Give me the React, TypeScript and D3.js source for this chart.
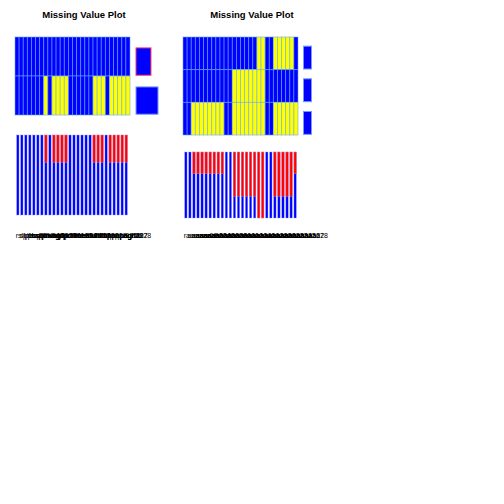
import React from 'react';
import * as d3 from 'd3';

// mosaic rows: 1 = missing (yellow), 0 = observed (blue)
const leftRows = [
  [0,0,0,0,0,0,0,0,0,0,0,0,0,0,0,0,0,0,0,0,0,0,0,0,0,0,0,0],
  [0,0,0,0,0,0,0,1,0,1,1,1,1,0,0,0,0,0,0,1,1,1,0,1,1,1,1,1],
];
const rightRows = [
  [0,0,0,0,0,0,0,0,0,0,0,0,0,0,0,0,0,0,1,1,0,0,1,1,1,1,1,0],
  [0,0,0,0,0,0,0,0,0,0,0,0,1,1,1,1,1,1,1,1,0,0,0,0,0,0,0,0],
  [0,0,1,1,1,1,1,1,1,1,0,0,1,1,1,1,1,1,1,1,0,0,1,1,1,1,1,1],
];

// share of missing values per observation (red part of each bar)
const leftShare = [0,0,0,0,0,0,0,0.34,0,0.34,0.34,0.34,0.34,0,0,0,0,0,0,0.34,0.34,0.34,0,0.34,0.34,0.34,0.34,0.34];
const rightShare = [0,0,0.33,0.33,0.33,0.33,0.33,0.33,0.33,0.33,0,0,0.67,0.67,0.67,0.67,0.67,0.67,1,1,0,0,0.67,0.67,0.67,0.67,0.67,0.33];

// small side bars next to the mosaic
const leftSide = [0.68, 1.0];
const leftSideStroke = ['#ff3366', '#7799ff'];
const rightSide = [1, 1, 1];
const rightSideStroke = ['#7799ff', '#7799ff', '#7799ff'];

const leftLabels = ['rslpbsq01', 'slpbsq02', 'lpbsqm03', 'pbsqmv04', 'bsqmva05', 'sqmvag06', 'qmvagd07', 'mvagdp08', 'vagdpc09', 'agdpcr10', 'gdpcre11', 'dpcrim12', 'pcrime13', 'crimed14', 'rimedu15', 'imeduh16', 'meduhl17', 'eduhlt18', 'duhlth19', 'uhlthp20', 'hlthpo21', 'lthpop22', 'thpopa23', 'hpopag24', 'popagr25', 'opagrt26', 'pagrta27', 'agrtax28'];
const rightLabels = ['raaaaaa01', 'aaaaaaa02', 'aaaaaaa03', 'aaaaaaa04', 'aaaaaaa05', 'aaaaaaa06', 'aaaaaaa07', 'aaaaaaa08', 'aaaaaaa09', 'aaaaaaa10', 'aaaaaaa11', 'aaaaaaa12', 'aaaaaaa13', 'aaaaaaa14', 'aaaaaaa15', 'aaaaaaa16', 'aaaaaaa17', 'aaaaaaa18', 'aaaaaaa19', 'aaaaaaa20', 'aaaaaaa21', 'aaaaaaa22', 'aaaaaaa23', 'aaaaaaa24', 'aaaaaaa25', 'aaaaaaa26', 'aaaaaaa27', 'aaaaaaa28'];

const BLUE = '#0000ff';
const YELLOW = '#ffff00';
const RED = '#ff0000';

type PanelProps = {
  cx: number;
  rows: number[][];
  share: number[];
  side: number[];
  sideStroke: string[];
  labels: string[];
  mx: [number, number];
  my: [number, number];
  sideX: number;
  sideMax: number;
  bx: [number, number];
  by: [number, number];
};

const Panel = (p: PanelProps) => {
  const n = p.rows[0].length;
  const colX = d3.scaleBand<number>().domain(d3.range(n)).range(p.mx).padding(0);
  const rowY = d3.scaleBand<number>().domain(d3.range(p.rows.length)).range(p.my).padding(0);
  const sideW = d3.scaleLinear().domain([0, d3.max(p.side) as number]).range([0, p.sideMax]);
  const barX = d3.scaleBand<number>().domain(d3.range(n)).range(p.bx).padding(0.42);
  const barY = d3.scaleLinear().domain([0, 1]).range([p.by[1], p.by[0]]);

  return (
    <g>
      <text x={p.cx} y={18} textAnchor="middle" fontFamily="Liberation Sans, Arial, sans-serif"
        fontWeight="bold" fontSize={9.5}>Missing Value Plot</text>
      {p.rows.map((row, r) => (
        <g key={r}>
          {row.map((v, c) => (
            <rect key={c} x={colX(c)} y={rowY(r)} width={colX.bandwidth()} height={rowY.bandwidth()}
              fill={v ? YELLOW : BLUE} stroke="#66aaff" strokeOpacity={0.7} strokeWidth={0.8} />
          ))}
          <rect x={p.sideX} y={(rowY(r) as number) + rowY.bandwidth() * 0.28}
            width={sideW(p.side[r])} height={rowY.bandwidth() * 0.7}
            fill={BLUE} stroke={p.sideStroke[r]} strokeWidth={1} />
        </g>
      ))}
      {p.share.map((s, i) => (
        <g key={i}>
          <rect x={barX(i)} y={barY(1)} width={barX.bandwidth()} height={barY(0) - barY(1)}
            fill={BLUE} stroke="#8899ff" strokeWidth={0.4} />
          {s > 0 && (
            <rect x={barX(i)} y={barY(1)} width={barX.bandwidth()} height={barY(1 - s) - barY(1)}
              fill={RED} stroke="#ff8888" strokeWidth={0.4} />
          )}
        </g>
      ))}
      {p.labels.map((l, i) => (
        <text key={i} x={(barX(i) as number) - 1} y={238} fontFamily="Liberation Sans, Arial, sans-serif"
          fontSize={7} fill="#000">{l}</text>
      ))}
    </g>
  );
};

export default function App() {
  return (
    <div style={{ position: 'absolute', left: 0, top: 0 }}>
      <svg width={504} height={504} style={{ display: 'block', background: '#fff' }}>
        <Panel cx={84} rows={leftRows} share={leftShare} side={leftSide} sideStroke={leftSideStroke}
          labels={leftLabels} mx={[15, 130]} my={[37, 115]} sideX={136} sideMax={22}
          bx={[15, 129]} by={[135, 215]} />
        <Panel cx={252} rows={rightRows} share={rightShare} side={rightSide} sideStroke={rightSideStroke}
          labels={rightLabels} mx={[183, 298]} my={[37, 135]} sideX={303.5} sideMax={8}
          bx={[183, 298]} by={[152, 218]} />
      </svg>
    </div>
  );
}
